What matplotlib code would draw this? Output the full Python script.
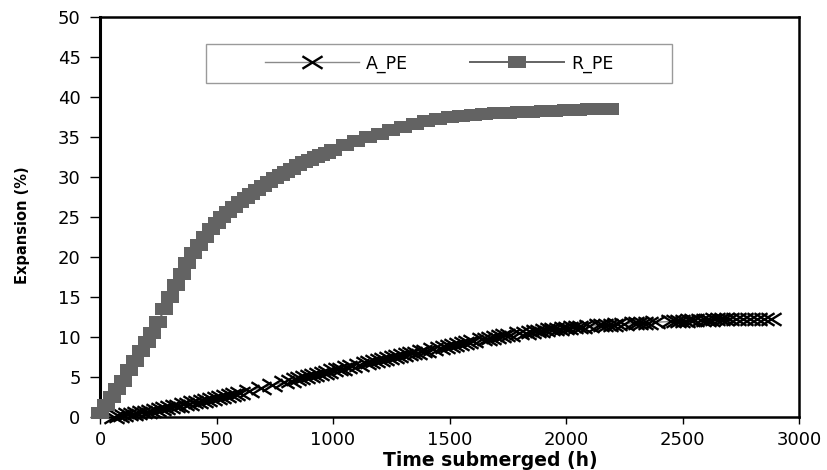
import numpy as np
import matplotlib
matplotlib.use('Agg')
import matplotlib.pyplot as plt
from matplotlib.path import Path
from matplotlib.patches import Rectangle

# R_PE: time (h) and expansion (%)
r_time = [0, 25, 50, 75, 100, 125, 150, 175, 200, 225, 250, 275, 300, 325, 350,
          375, 400, 425, 450, 475, 500, 525, 550, 575, 600, 625, 650, 675, 700,
          725, 750, 775, 800, 825, 850, 875, 900, 925, 950, 975, 1000,
          1050, 1100, 1150, 1200, 1250, 1300, 1350, 1400, 1450, 1500, 1550,
          1600, 1650, 1700, 1750, 1800, 1850, 1900, 1950, 2000, 2050, 2100,
          2150, 2190]
r_exp = [0.5, 1.5, 2.5, 3.5, 4.5, 5.8, 7.0, 8.2, 9.3, 10.5, 11.8, 13.4, 15.0, 16.4, 17.8,
         19.2, 20.4, 21.5, 22.5, 23.4, 24.2, 24.9, 25.6, 26.2, 26.8, 27.3, 27.8, 28.3, 28.8,
         29.3, 29.8, 30.2, 30.6, 31.0, 31.4, 31.8, 32.1, 32.4, 32.7, 33.0, 33.3,
         33.9, 34.4, 34.9, 35.3, 35.8, 36.2, 36.6, 36.9, 37.2, 37.4, 37.6,
         37.7, 37.8, 37.9, 38.0, 38.1, 38.1, 38.2, 38.2, 38.3, 38.3, 38.4,
         38.4, 38.5]

# A_PE: time (h) and expansion (%)
a_time = [60, 80, 100, 120, 140, 160, 180, 200, 220, 240, 260, 280, 300, 320, 340,
          360, 380, 400, 420, 440, 460, 480, 500, 520, 540, 560, 580, 600,
          640, 690, 740, 790,
          820, 840, 860, 880, 900, 920, 940, 960, 980, 1000, 1020, 1040, 1060, 1080,
          1110, 1140, 1160, 1180, 1200, 1220, 1240, 1260, 1280, 1300, 1320, 1340,
          1360, 1380, 1400, 1430, 1460, 1480, 1500, 1520, 1540, 1560, 1580, 1600,
          1640, 1660, 1680, 1700, 1720, 1740, 1760, 1800, 1830, 1850, 1870, 1890,
          1910, 1930, 1950, 1970, 1990, 2010, 2030, 2050, 2070, 2100, 2140, 2160,
          2180, 2200, 2220, 2250, 2290, 2310, 2330, 2350, 2380,
          2450, 2470, 2490, 2510, 2530, 2550, 2580, 2600, 2620, 2640, 2660, 2680,
          2700, 2730, 2760, 2790, 2820, 2850, 2880]
a_exp = [0.0, 0.1, 0.2, 0.3, 0.35, 0.45, 0.55, 0.65, 0.75, 0.85, 0.95, 1.05, 1.2, 1.3, 1.4,
         1.55, 1.65, 1.8, 1.9, 2.0, 2.15, 2.25, 2.4, 2.5, 2.6, 2.75, 2.85, 3.0,
         3.25, 3.6, 3.95, 4.3,
         4.5, 4.7, 4.8, 4.95, 5.1, 5.2, 5.35, 5.5, 5.6, 5.8, 5.9, 6.0, 6.15, 6.3,
         6.45, 6.65, 6.8, 6.9, 7.05, 7.15, 7.3, 7.4, 7.55, 7.65, 7.8, 7.9,
         8.0, 8.15, 8.25, 8.45, 8.6, 8.75, 8.85, 9.0, 9.1, 9.2, 9.3, 9.45,
         9.65, 9.75, 9.85, 9.95, 10.05, 10.15, 10.2, 10.4, 10.5, 10.6, 10.65, 10.75,
         10.8, 10.9, 10.95, 11.0, 11.05, 11.1, 11.15, 11.2, 11.25, 11.3, 11.4, 11.45,
         11.5, 11.5, 11.55, 11.6, 11.65, 11.7, 11.7, 11.75, 11.8,
         11.9, 11.95, 12.0, 12.0, 12.05, 12.05, 12.1, 12.1, 12.1, 12.15, 12.15, 12.15,
         12.2, 12.2, 12.2, 12.2, 12.25, 12.25, 12.25]

x_ticks = [0, 500, 1000, 1500, 2000, 2500, 3000]
y_ticks = [0, 5, 10, 15, 20, 25, 30, 35, 40, 45, 50]

assert len(r_time) == len(r_exp) and len(a_time) == len(a_exp)

# wide markers: flattened cross and flattened square
cross = Path([(-1, -0.62), (1, 0.62), (-1, 0.62), (1, -0.62)],
             [Path.MOVETO, Path.LINETO, Path.MOVETO, Path.LINETO])
box = Path([(-1, -0.7), (1, -0.7), (1, 0.7), (-1, 0.7), (-1, -0.7)],
           [Path.MOVETO, Path.LINETO, Path.LINETO, Path.LINETO, Path.CLOSEPOLY])

plt.rcParams['font.family'] = 'DejaVu Sans'

fig = plt.figure(figsize=(8.28, 4.70), dpi=100)
ax = fig.add_axes([0.1208, 0.1134, 0.8442, 0.8511])

ax.plot(a_time, a_exp, color='#8a8a8a', lw=1.0, marker=cross, ms=14.5,
        mec='black', mew=1.7, mfc='none', label='A_PE', zorder=3, clip_on=False)
ax.plot(r_time, r_exp, color='#636363', lw=1.4, marker=box, ms=12.5,
        mec='#636363', mfc='#636363', mew=0, label='R_PE', zorder=4, clip_on=False)

ax.set_xlim(0, 3000)
ax.set_ylim(0, 50)
ax.set_xticks(x_ticks)
ax.set_yticks(y_ticks)
ax.tick_params(axis='y', direction='out', length=7, width=1, pad=7, labelsize=13)
ax.tick_params(axis='x', direction='out', length=5, width=1, pad=5, labelsize=13)
for s in ax.spines.values():
    s.set_linewidth(1.8)
    s.set_color('black')
ax.spines['left'].set_linewidth(2.2)

ax.set_xlabel('Time submerged (h)', fontsize=13.5, fontweight='bold', labelpad=0)
ax.set_ylabel('Expansion (%)', fontsize=10.5, fontweight='bold')
ax.xaxis.set_label_coords(0.558, -0.085)
ax.yaxis.set_label_coords(-0.1, 0.479)

# legend with a separately drawn frame
ax.add_patch(Rectangle((0.152, 0.834), 0.666, 0.098, transform=ax.transAxes,
                       fill=False, edgecolor='#9a9a9a', lw=1.0, zorder=5))
ax.legend(loc='center', bbox_to_anchor=(0.485, 0.883), ncol=2, frameon=False,
          fontsize=12.5, handlelength=5.4, handletextpad=0.4, columnspacing=3.6)

fig.savefig('out.png', dpi=100)
